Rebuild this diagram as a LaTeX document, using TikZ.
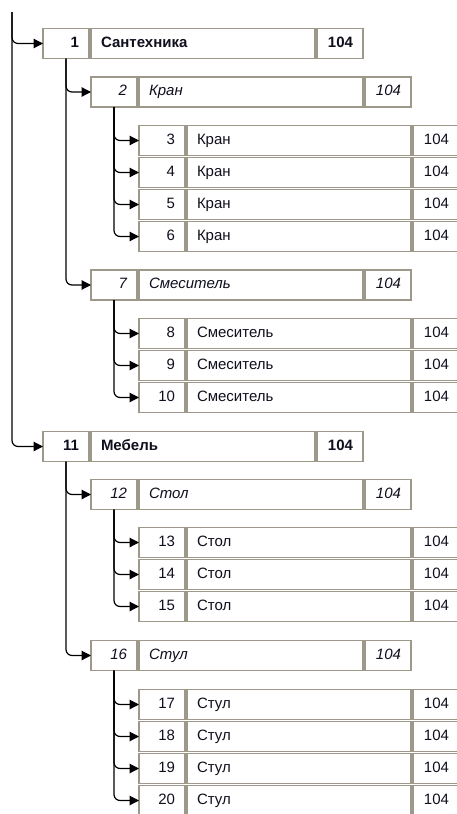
\documentclass[tikz,border=0pt]{standalone}
\usepackage{fontspec}
\setmainfont{Liberation Sans}
\usetikzlibrary{arrows.meta}
\definecolor{bordercol}{RGB}{158,152,138}
\definecolor{txtcol}{RGB}{15,15,30}
\newcommand\fsz{\fontsize{15pt}{18pt}\selectfont}
\tikzset{
  cell/.style={draw=bordercol, line width=1.3pt, fill=white, minimum height=30pt,
    inner ysep=0pt, outer sep=0pt, anchor=west, text=txtcol,
    text height=10.5pt, text depth=3pt},
  numcell/.style={cell, inner xsep=10pt, text width=26pt, align=right},
  namecell/.style={cell, inner xsep=10pt, text width=204pt, align=left},
  valcell/.style={cell, inner xsep=10pt, text width=26pt, align=right},
  lvlA/.style={font=\fsz\bfseries},
  lvlB/.style={font=\fsz\itshape},
  lvlC/.style={font=\fsz},
  conn/.style={draw=black, line width=1.2pt, rounded corners=6pt,
    -{Triangle[length=9.5pt,width=9.5pt]}}
}
% #1 id, #2 x, #3 y, #4 level style, #5 number, #6 name
\newcommand\rowbox[6]{%
  \node[numcell,#4] (n#1) at (#2,#3) {#5};
  \node[namecell,#4] (t#1) at ([xshift=2pt]n#1.east) {#6};
  \node[valcell,#4] (v#1) at ([xshift=2pt]t#1.east) {104};
}
\begin{document}
\begin{tikzpicture}[x=1pt,y=-1pt]
\useasboundingbox (0,0) rectangle (457,814);
\clip (0,0) rectangle (457,814);
\coordinate (root) at (12,12);

\rowbox{1}{43}{43.5}{lvlA}{1}{Сантехника}
\rowbox{2}{91}{92}{lvlB}{2}{Кран}
\rowbox{3}{139}{140.5}{lvlC}{3}{Кран}
\rowbox{4}{139}{172.5}{lvlC}{4}{Кран}
\rowbox{5}{139}{204.5}{lvlC}{5}{Кран}
\rowbox{6}{139}{236.5}{lvlC}{6}{Кран}
\rowbox{7}{91}{285}{lvlB}{7}{Смеситель}
\rowbox{8}{139}{333.5}{lvlC}{8}{Смеситель}
\rowbox{9}{139}{365.5}{lvlC}{9}{Смеситель}
\rowbox{10}{139}{397.5}{lvlC}{10}{Смеситель}
\rowbox{11}{43}{446.5}{lvlA}{11}{Мебель}
\rowbox{12}{91}{494.5}{lvlB}{12}{Стол}
\rowbox{13}{139}{542.5}{lvlC}{13}{Стол}
\rowbox{14}{139}{574.5}{lvlC}{14}{Стол}
\rowbox{15}{139}{606.5}{lvlC}{15}{Стол}
\rowbox{16}{91}{655.5}{lvlB}{16}{Стул}
\rowbox{17}{139}{704.5}{lvlC}{17}{Стул}
\rowbox{18}{139}{736.5}{lvlC}{18}{Стул}
\rowbox{19}{139}{768.5}{lvlC}{19}{Стул}
\rowbox{20}{139}{800.5}{lvlC}{20}{Стул}

\draw[conn] (root) |- (n1.west);
\draw[conn] (root) |- (n11.west);
\draw[conn] (n1.south) |- (n2.west);
\draw[conn] (n1.south) |- (n7.west);
\foreach \c in {3,4,5,6} {\draw[conn] (n2.south) |- (n\c.west);}
\foreach \c in {8,9,10} {\draw[conn] (n7.south) |- (n\c.west);}
\draw[conn] (n11.south) |- (n12.west);
\draw[conn] (n11.south) |- (n16.west);
\foreach \c in {13,14,15} {\draw[conn] (n12.south) |- (n\c.west);}
\foreach \c in {17,18,19,20} {\draw[conn] (n16.south) |- (n\c.west);}
\end{tikzpicture}
\end{document}
